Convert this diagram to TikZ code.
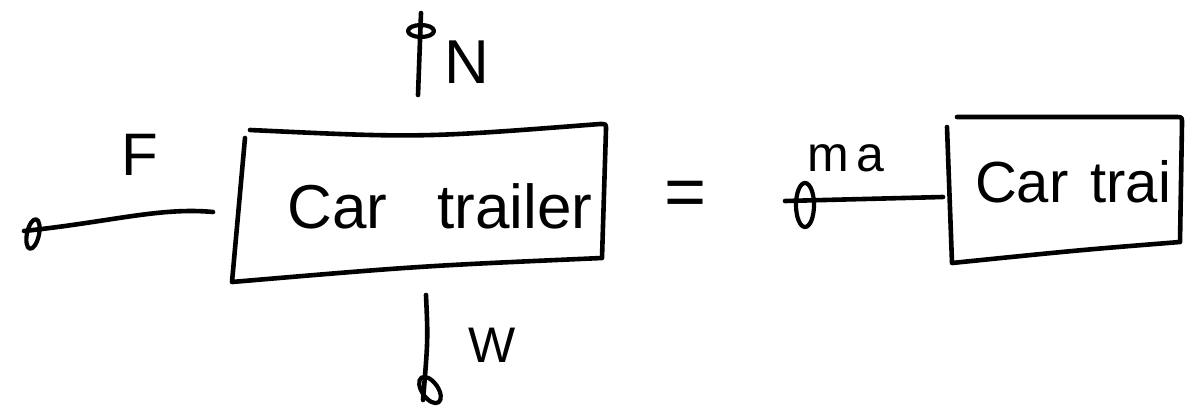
\documentclass[tikz,border=0pt]{standalone}
\usepackage{fontspec}
\setmainfont{Liberation Sans}
\begin{document}
\begin{tikzpicture}[x=1pt,y=-1pt,
  ink/.style={line width=4.6pt, line cap=round, line join=round, black},
  lbl/.style={inner sep=0pt, anchor=center, font=\fontsize{#1}{#1}\selectfont},
  loop/.style={ink, line width=4.2pt}]
\fill[white] (0,0) rectangle (1190,414);
\useasboundingbox (0,0) rectangle (1190,414);

% left box
\draw[ink] (245,138) -- (232,282) .. controls (420,266) .. (602,258)
  -- (606,129) .. controls (606,124) .. (600,124) .. controls (420,138) .. (250,130);
\node[lbl=62] (ltext) at (440,206) {Car\hspace{50pt}trailer};

% right box
\draw[ink] (947,127) -- (952,263) .. controls (1080,250) .. (1180,242)
  -- (1182,123) .. controls (1182,117) .. (1176,117) -- (957,117);
\node[lbl=58] (rtext) at (1073,182) {Car\hspace{22pt}trai};

% coordinates for connectors
\coordinate (Fs) at (213,212);
\coordinate (Fe) at (24,231);
\coordinate (Ns) at (418,95);
\coordinate (Ne) at (421,13);
\coordinate (Ws) at (426,295);
\coordinate (We) at (423,400);
\coordinate (Ms) at (943,197);
\coordinate (Me) at (785,201);

% F arrow
\draw[ink] (Fs) .. controls (160,207) and (110,222) .. (Fe);
\draw[loop, rotate around={-12:(33,234)}] (33,234) ellipse [x radius=6, y radius=15];
\node[lbl=60] (F) at (140,155) {F};

% N arrow
\draw[ink] (Ns) -- (Ne);
\draw[loop] (421,31) ellipse [x radius=13, y radius=6];
\node[lbl=62] (N) at (467,62) {N};

% W arrow
\draw[ink] (Ws) .. controls (428,340) .. (We);
\draw[loop, rotate around={35:(430,390)}] (430,390) ellipse [x radius=8, y radius=15];
\node[lbl=50] (W) at (492,345) {W};

% equals
\node[lbl=72] (eq) at (686,199) {=};

% ma arrow
\draw[ink] (Ms) -- (Me);
\draw[loop] (805,205) ellipse [x radius=9, y radius=22];
\node[lbl=50] (ma) at (846,158) {m\hspace{8pt}a};
\end{tikzpicture}
\end{document}
